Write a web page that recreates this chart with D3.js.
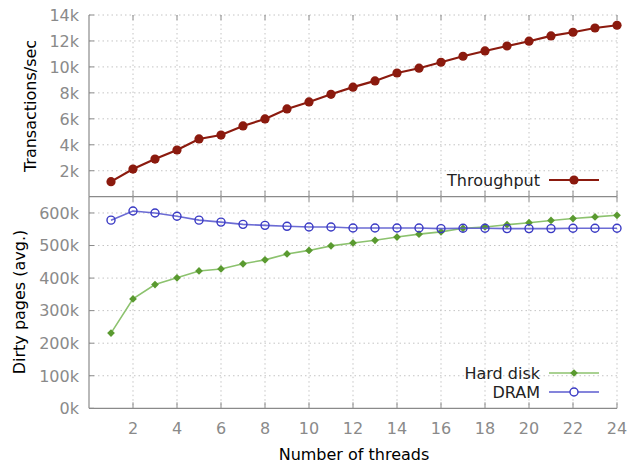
<!DOCTYPE html>
<html>
<head>
<meta charset="utf-8">
<script src="https://cdn.jsdelivr.net/npm/d3@7"></script>
<style>
  body { margin: 0; background: #fff; }
  text { font-family: "DejaVu Sans", sans-serif; }
</style>
</head>
<body>
<div id="chart"></div>
<script>
// data
const threads = d3.range(1, 25);
const throughput = [1160, 2130, 2900, 3600, 4450, 4750, 5450, 5990, 6760, 7300, 7890, 8440,
  8920, 9530, 9900, 10360, 10820, 11230, 11610, 11980, 12390, 12670, 13000, 13210];
const hardDisk = [231000, 336000, 380000, 401000, 422000, 428000, 444000, 456000, 474000, 485000, 499000, 508000,
  516000, 526000, 535000, 542000, 553000, 557000, 564000, 570000, 577000, 583000, 588000, 593000];
const dram = [578000, 606000, 600000, 590000, 578000, 572000, 565000, 562000, 559000, 557000, 557000, 554000,
  554000, 554000, 554000, 552000, 553000, 553000, 552000, 552000, 552000, 553000, 553000, 553000];
const xTicks = d3.range(2, 25, 2);
const topTicks = [2000, 4000, 6000, 8000, 10000, 12000, 14000];
const bottomTicks = [0, 100000, 200000, 300000, 400000, 500000, 600000];

const width = 640, height = 466;
const left = 89, right = 617;
const fs = "16px";

const svg = d3.select("#chart").append("svg")
  .attr("width", width)
  .attr("height", height);

const x = d3.scaleLinear().domain([0, 24]).range([left, right]);
const yTop = d3.scaleLinear().domain([0, 14000]).range([196.7, 15]);
const yBot = d3.scaleLinear().domain([0, 650000]).range([408.3, 196.7]);

const gridColor = "#c4c4c4";
const axisColor = "#8a8a8a";
const labelColor = "#8a8a8a";

function panel(y, yTicks, yFmt, yTopPx, yBotPx) {
  const g = svg.append("g");
  // horizontal grid
  g.selectAll(".hg").data(yTicks.filter(d => d > 0)).enter().append("line")
    .attr("x1", left).attr("x2", right)
    .attr("y1", d => y(d)).attr("y2", d => y(d))
    .attr("stroke", gridColor).attr("stroke-dasharray", "1.5,3");
  // vertical grid
  g.selectAll(".vg").data(xTicks).enter().append("line")
    .attr("x1", d => x(d)).attr("x2", d => x(d))
    .attr("y1", yTopPx).attr("y2", yBotPx)
    .attr("stroke", gridColor).attr("stroke-dasharray", "1.5,3");
  // ticks
  g.selectAll(".xt").data(xTicks).enter().append("line")
    .attr("x1", d => x(d)).attr("x2", d => x(d))
    .attr("y1", yBotPx).attr("y2", yBotPx - 6)
    .attr("stroke", axisColor);
  g.selectAll(".xt2").data(xTicks).enter().append("line")
    .attr("x1", d => x(d)).attr("x2", d => x(d))
    .attr("y1", yTopPx).attr("y2", yTopPx + 5)
    .attr("stroke", axisColor);
  g.selectAll(".yt").data(yTicks).enter().append("line")
    .attr("x1", left).attr("x2", left + 5)
    .attr("y1", d => y(d)).attr("y2", d => y(d))
    .attr("stroke", axisColor);
  // y labels
  g.selectAll(".yl").data(yTicks).enter().append("text")
    .attr("x", left - 10).attr("y", d => y(d) + 5.8)
    .attr("text-anchor", "end")
    .attr("fill", labelColor)
    .style("font-size", fs)
    .text(yFmt);
  // frame: left + bottom
  g.append("line").attr("x1", left).attr("x2", left).attr("y1", yTopPx).attr("y2", yBotPx)
    .attr("stroke", axisColor).attr("stroke-width", 1.2);
  g.append("line").attr("x1", left).attr("x2", right).attr("y1", yBotPx).attr("y2", yBotPx)
    .attr("stroke", axisColor).attr("stroke-width", 1.2);
}

panel(yTop, topTicks, d => (d / 1000) + "k", 15, 196.7);
panel(yBot, bottomTicks, d => (d / 1000) + "k", 196.7, 408.3);

// x tick labels
svg.selectAll(".xl").data(xTicks).enter().append("text")
  .attr("x", d => x(d)).attr("y", 433.5)
  .attr("text-anchor", "middle")
  .attr("fill", labelColor)
  .style("font-size", fs)
  .text(d => d);

// axis titles
svg.append("text")
  .attr("transform", "translate(36,106) rotate(-90)")
  .attr("text-anchor", "middle")
  .style("font-size", fs)
  .text("Transactions/sec");
svg.append("text")
  .attr("transform", "translate(25,302) rotate(-90)")
  .attr("text-anchor", "middle")
  .style("font-size", fs)
  .text("Dirty pages (avg.)");
svg.append("text")
  .attr("x", 354).attr("y", 460)
  .attr("text-anchor", "middle")
  .style("font-size", fs)
  .text("Number of threads");

// series
const tpColor = "#8b1a0e";
const hdLine = "#8cc26e", hdMark = "#5a9a30";
const drLine = "#5b5bcf", drMark = "#3a3ac4";

const lineTop = d3.line().x((d, i) => x(threads[i])).y(d => yTop(d));
const lineBot = d3.line().x((d, i) => x(threads[i])).y(d => yBot(d));

svg.append("path").datum(throughput).attr("d", lineTop)
  .attr("fill", "none").attr("stroke", tpColor).attr("stroke-width", 2.2);
svg.selectAll(".tp").data(throughput).enter().append("circle")
  .attr("cx", (d, i) => x(threads[i])).attr("cy", d => yTop(d))
  .attr("r", 4.6).attr("fill", tpColor);

svg.append("path").datum(hardDisk).attr("d", lineBot)
  .attr("fill", "none").attr("stroke", hdLine).attr("stroke-width", 1.6);
// filled diamond: a square turned 45 degrees
const diamond = d3.symbol().type(d3.symbolSquare).size(30);
svg.selectAll(".hd").data(hardDisk).enter().append("path")
  .attr("d", diamond)
  .attr("transform", (d, i) => `translate(${x(threads[i])},${yBot(d)}) rotate(45)`)
  .attr("fill", hdMark);

svg.append("path").datum(dram).attr("d", lineBot)
  .attr("fill", "none").attr("stroke", drLine).attr("stroke-width", 1.6).attr("opacity", 0.9);
svg.selectAll(".dr").data(dram).enter().append("circle")
  .attr("cx", (d, i) => x(threads[i])).attr("cy", d => yBot(d))
  .attr("r", 4).attr("fill", "none").attr("stroke", drMark).attr("stroke-width", 1.4);

// legends
function legend(y, label, lineColor, mark) {
  svg.append("text").attr("x", 540).attr("y", y + 5.5)
    .attr("text-anchor", "end").style("font-size", fs).attr("fill", "#222")
    .text(label);
  svg.append("line").attr("x1", 549).attr("x2", 599).attr("y1", y).attr("y2", y)
    .attr("stroke", lineColor).attr("stroke-width", label === "Throughput" ? 2.2 : 1.6);
  mark(svg, 574, y);
}
legend(180, "Throughput", tpColor, (s, cx, cy) =>
  s.append("circle").attr("cx", cx).attr("cy", cy).attr("r", 4.6).attr("fill", tpColor));
legend(373, "Hard disk", hdLine, (s, cx, cy) =>
  s.append("path").attr("d", diamond).attr("transform", `translate(${cx},${cy}) rotate(45)`).attr("fill", hdMark));
legend(392, "DRAM", drLine, (s, cx, cy) =>
  s.append("circle").attr("cx", cx).attr("cy", cy).attr("r", 4).attr("fill", "#fff")
    .attr("stroke", drMark).attr("stroke-width", 1.4));
</script>
</body>
</html>
